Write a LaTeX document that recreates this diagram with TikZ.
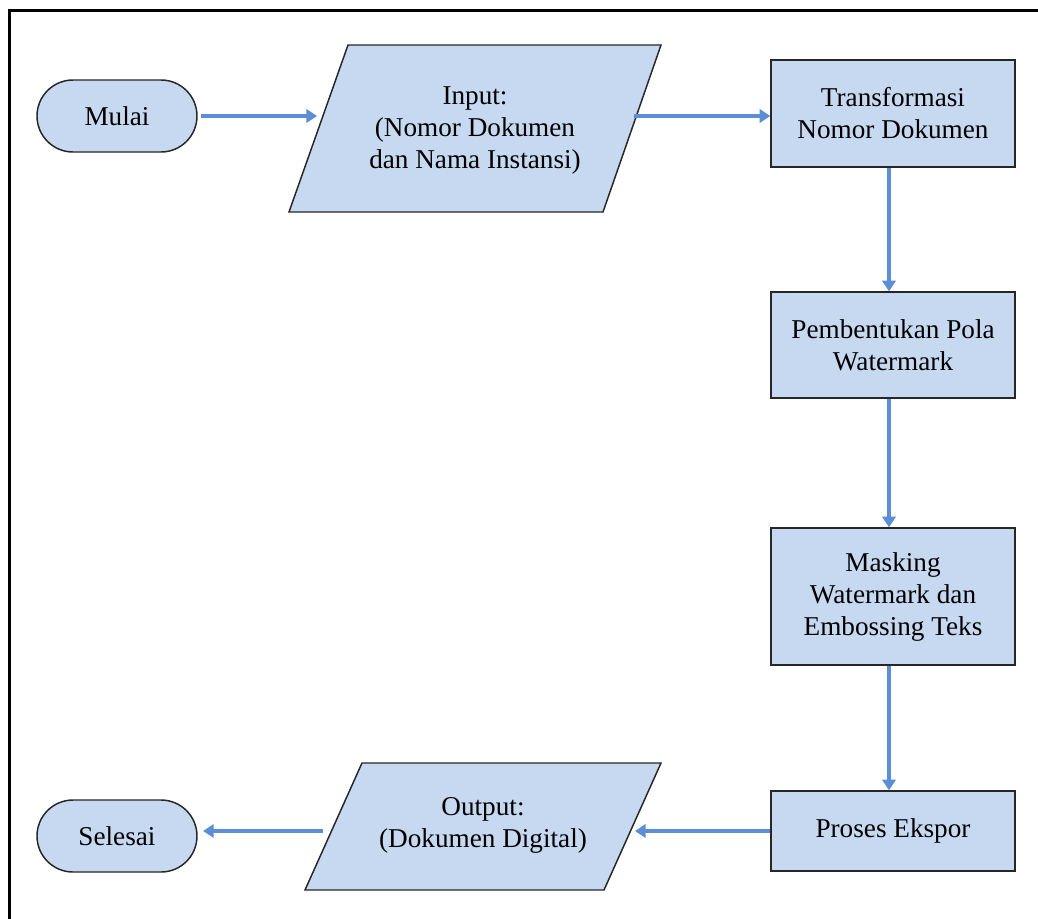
\documentclass[tikz,border=0pt]{standalone}
\usepackage{fontspec}
\setmainfont{Liberation Serif}
\usetikzlibrary{arrows.meta}
\definecolor{boxfill}{HTML}{C6D9F1}
\definecolor{arrowblue}{HTML}{5B8ED6}
\definecolor{edge}{HTML}{262626}
\tikzset{
  base/.style={draw=edge, line width=1.1pt, fill=boxfill, align=center, inner sep=0pt,
    font=\fontsize{20.4}{24}\selectfont},
  proc/.style={base, rectangle, minimum width=183pt},
  term/.style={base, rectangle, rounded corners=27pt, minimum width=120pt, minimum height=54pt},
  io/.style={draw=edge, line width=1.1pt, fill=boxfill},
  lbl/.style={align=center, inner sep=0pt, font=\fontsize{20.4}{24}\selectfont},
  arr/.style={draw=arrowblue, line width=2.8pt, -{Triangle[length=8pt,width=10pt]}},
}
\begin{document}
\begin{tikzpicture}[x=0.75pt,y=-0.75pt]
\useasboundingbox (0,0) rectangle (1038,918);
\clip (0,0) rectangle (1038,918);
\draw[line width=2.4pt] (9.5,10.5) rectangle (1060,940);

% terminals
\node[term] (mulai) at (117,116) {Mulai};
\node[term] (selesai) at (117,836) {Selesai};

% input parallelogram
\coordinate (i1) at (348,45);
\coordinate (i2) at (661,45);
\coordinate (i3) at (603,212);
\coordinate (i4) at (289,212);
\draw[io] (i1) -- (i2) -- (i3) -- (i4) -- cycle;
\node[lbl] (input) at (475,130) {Input:\\(Nomor Dokumen\\dan Nama Instansi)};
\coordinate (inL) at (317,116);
\coordinate (inR) at (634,116);

% output parallelogram
\coordinate (o1) at (362,763);
\coordinate (o2) at (661,763);
\coordinate (o3) at (604,890);
\coordinate (o4) at (305,890);
\draw[io] (o1) -- (o2) -- (o3) -- (o4) -- cycle;
\node[lbl] (output) at (483,825.5) {Output:\\(Dokumen Digital)};
\coordinate (outR) at (635,831);
\coordinate (outL) at (323,831);

% process boxes
\node[proc, minimum height=80.25pt] (trans) at (893,113.5) {Transformasi\\Nomor Dokumen};
\node[proc, minimum height=79.5pt] (pola) at (893,345) {Pembentukan Pola\\Watermark};
\node[proc, minimum height=102.75pt] (mask) at (893,596.5) {Masking\\Watermark dan\\Embossing Teks};
\node[proc, minimum height=60pt] (ekspor) at (893,831) {Proses Ekspor};

% connectors
\draw[arr, shorten <=2.5pt] (mulai.east) -- (inL);
\draw[arr] (inR) -- (trans.west |- inR);
\draw[arr] ([xshift=-3pt]trans.south) -- ([xshift=-3pt]pola.north);
\draw[arr] ([xshift=-3pt]pola.south) -- ([xshift=-3pt]mask.north);
\draw[arr] ([xshift=-3pt]mask.south) -- ([xshift=-3pt]ekspor.north);
\draw[arr] (ekspor.west) -- (outR);
\draw[arr, shorten >=4pt] (outL) -- (selesai.east |- outL);
\end{tikzpicture}
\end{document}
